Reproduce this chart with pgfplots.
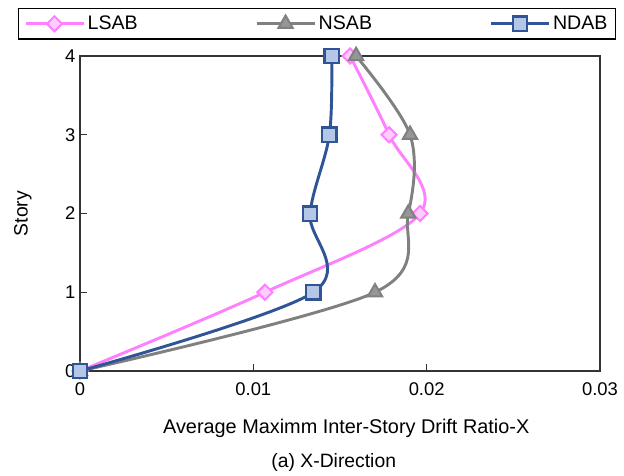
\documentclass[border=0pt]{standalone}
\usepackage{fontspec}
\setmainfont{Liberation Sans}
\usepackage{pgfplots}
\pgfplotsset{compat=1.18}

\definecolor{lsab}{RGB}{255,128,255}
\definecolor{lsabfill}{RGB}{255,204,255}
\definecolor{nsab}{RGB}{128,128,128}
\definecolor{nsabfill}{RGB}{150,150,150}
\definecolor{ndab}{RGB}{47,85,151}
\definecolor{ndabfill}{RGB}{180,199,231}

\begin{document}
\begin{tikzpicture}
\begin{axis}[
    scale only axis,
    width=390pt,
    height=236.25pt,
    xmin=0, xmax=0.03,
    ymin=0, ymax=4,
    xtick={0,0.01,0.02,0.03},
    xticklabels={0,0.01,0.02,0.03},
    ytick={0,1,2,3,4},
    scaled x ticks=false,
    tick align=inside,
    xtick pos=lower,
    ytick pos=left,
    major tick length=5pt,
    tick style={black!80, line width=0.8pt},
    axis line style={black!80, line width=0.9pt},
    /pgf/number format/assume math mode=true,
    tick label style={font=\fontsize{13.8}{16}\selectfont},
    x tick label style={yshift=-5pt},
    xlabel={Average Maximm Inter-Story Drift Ratio-X},
    xlabel style={at={(axis description cs:0.512,-0.181)}, anchor=center, font=\fontsize{14.9}{17}\selectfont},
    ylabel={Story},
    ylabel style={at={(axis description cs:-0.11,0.5)}, anchor=center, font=\fontsize{14.5}{17}\selectfont},
    clip=false,
    legend columns=3,
    legend style={
        at={(axis description cs:0.456,1.152)},
        anchor=north,
        draw=black, line width=0.8pt,
        inner xsep=4pt, inner ysep=3.5pt,
        font=\fontsize{14.7}{17}\selectfont,
        /tikz/every even column/.append style={column sep=86pt},
    },
    every axis plot/.append style={
        legend image code/.code={
            \draw[mark repeat=2, mark phase=2] plot coordinates {(0pt,0pt) (21.75pt,0pt) (43.5pt,0pt)};
        },
    },
]
\addplot[lsab, line width=2.2pt, smooth, tension=0.55,
    mark=square*, mark size=4pt,
    mark options={rotate=45, fill=lsabfill, draw=lsab, line width=1.5pt}]
    coordinates {(0,0) (0.01067,1) (0.01962,2) (0.01783,3) (0.01558,4)};
\addlegendentry{LSAB}
\addplot[nsab, line width=2.2pt, smooth, tension=0.55,
    mark=triangle*, mark size=6.2pt,
    mark options={fill=nsabfill, draw=nsab, line width=1.5pt}]
    coordinates {(0,0) (0.01702,1) (0.01894,2) (0.01904,3) (0.01593,4)};
\addlegendentry{NSAB}
\addplot[ndab, line width=2.2pt, smooth, tension=0.55,
    mark=square*, mark size=5.4pt,
    mark options={fill=ndabfill, draw=ndab, line width=1.8pt}]
    coordinates {(0,0) (0.01346,1) (0.01327,2) (0.01439,3) (0.01452,4)};
\addlegendentry{NDAB}
\node[font=\fontsize{14.5}{17}\selectfont] at (rel axis cs:0.488,-0.289) {(a) X-Direction};
\path (rel axis cs:-0.1538,-0.327) rectangle (rel axis cs:1.04615,1.1778);
\end{axis}
\end{tikzpicture}
\end{document}
